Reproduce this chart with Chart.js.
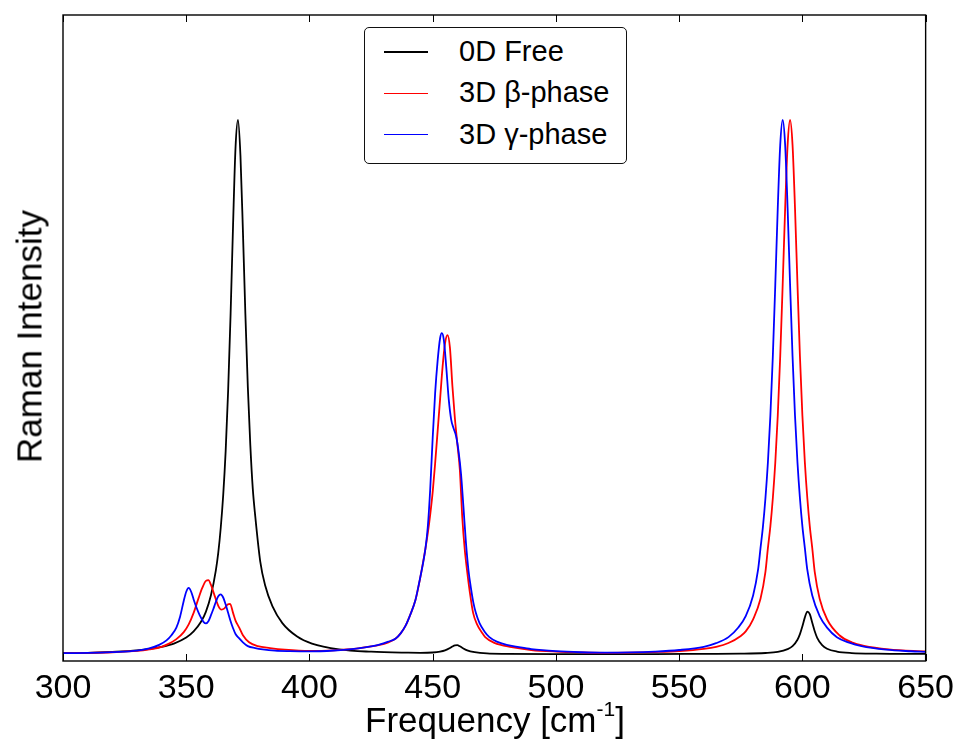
<!DOCTYPE html>
<html>
<head>
<meta charset="utf-8">
<title>Raman Intensity</title>
<script src="https://cdn.jsdelivr.net/npm/chart.js@4.4.1/dist/chart.umd.min.js"></script>
<style>
  html, body { margin: 0; padding: 0; background: #fff; }
  #wrap { position: relative; width: 961px; height: 742px; overflow: hidden;
          font-family: "Liberation Sans", Arial, sans-serif; color: #000; }
  #ramanChart { position: absolute; left: 0; top: 0; }
  .txt { position: absolute; white-space: nowrap; }
  #legendBox { position: absolute; left: 364px; top: 27px; width: 263px; height: 137px;
               box-sizing: border-box; border: 1.3px solid #111; border-radius: 5px; background: #fff; }
  .legLine { position: absolute; left: 384px; width: 44px; height: 1.6px; }
  .legText { font-size: 29px; line-height: 29px; left: 459px; }
  #xTitle { left: 195px; width: 600px; top: 702px; text-align: center; font-size: 35px; line-height: 35px; }
  #xTitle span { font-size: 0.6em; position: relative; top: -0.75em; }
  #yTitle { left: -171px; width: 400px; top: 319px; height: 35px; text-align: center;
            font-size: 35px; line-height: 35px; transform: rotate(-90deg); }
</style>
</head>
<body>
<div id="wrap">
  <canvas id="ramanChart" width="961" height="742"></canvas>
  <div id="legendBox"></div>
  <div id="legendItems"></div>
  <div class="txt" id="xTitle">Frequency [cm<span>-1</span>]</div>
  <div class="txt" id="yTitle">Raman Intensity</div>
</div>
<script>
// x axis ticks
const xTicks = [300, 350, 400, 450, 500, 550, 600, 650];

// series names (legend order)
const seriesNames = ['0D Free', '3D \u03b2-phase', '3D \u03b3-phase'];

// 0D Free (black) - frequency / intensity
const freqFree = [300, 310, 320, 330, 340, 345, 350, 353, 356, 358, 360, 362, 363, 364, 365, 366, 367, 368, 369, 370,
  371, 372, 373, 374, 375, 376, 377, 378, 380, 382, 385, 389, 395, 401, 412, 425, 440, 445, 450, 453,
  455, 457, 458, 459, 460, 461, 462, 464, 467, 472, 480, 500, 540, 560, 575, 585, 590, 594, 596, 598,
  599, 600, 601, 602, 603, 604, 605, 606, 608, 610, 614, 620, 630, 650];
const intFree = [0.003, 0.0035, 0.005, 0.0075, 0.013, 0.018, 0.0274, 0.037, 0.052, 0.068, 0.093, 0.132, 0.160, 0.199, 0.250, 0.319, 0.413, 0.533, 0.672, 0.793,
  0.836, 0.780, 0.662, 0.532, 0.418, 0.328, 0.260, 0.217, 0.147, 0.109, 0.076, 0.050, 0.029, 0.018, 0.009, 0.0053, 0.0038, 0.0036, 0.0041, 0.0054,
  0.0073, 0.011, 0.0135, 0.0153, 0.0155, 0.0138, 0.0114, 0.0074, 0.0046, 0.0026, 0.0019, 0.0015, 0.0015, 0.002, 0.0023, 0.0033, 0.005, 0.0093, 0.014, 0.024,
  0.0327, 0.045, 0.059, 0.068, 0.064, 0.0507, 0.0372, 0.027, 0.0155, 0.010, 0.0055, 0.0032, 0.0022, 0.0018];

// 3D beta-phase (red)
const freqBeta = [300, 310, 320, 330, 335, 340, 343, 346, 349, 351, 353, 355, 356.5, 358, 359, 360, 361.5, 363, 364.3, 365.5,
  366.8, 367.8, 369, 370, 371.5, 373, 375.5, 379, 384, 390, 400, 410, 419, 425, 428, 432, 435, 437, 439, 441,
  443, 444.5, 446, 447, 448, 449, 450, 451, 452, 453, 454, 455, 456, 457, 458, 459, 460, 461, 462, 463,
  464, 465, 466.4, 468, 470, 471.3, 475, 482, 490, 500, 510, 520, 530, 540, 550, 560, 565, 570, 575, 577,
  580, 583, 585, 586, 587, 588, 589, 590, 591, 592, 593, 594, 595, 596, 597, 598, 599, 600, 601, 602,
  603, 604, 605, 607, 610, 615, 620, 625, 635, 650];
const intBeta = [0.003, 0.0035, 0.0045, 0.0065, 0.009, 0.013, 0.018, 0.025, 0.036, 0.048, 0.066, 0.089, 0.105, 0.116, 0.117, 0.110, 0.093, 0.077, 0.071, 0.073,
  0.079, 0.080, 0.066, 0.054, 0.043, 0.031, 0.020, 0.014, 0.011, 0.0085, 0.0065, 0.0075, 0.010, 0.0135, 0.0155, 0.020, 0.026, 0.034, 0.046, 0.064,
  0.086, 0.112, 0.143, 0.165, 0.190, 0.220, 0.255, 0.300, 0.350, 0.400, 0.450, 0.487, 0.500, 0.480, 0.420, 0.370, 0.330, 0.290, 0.215, 0.165,
  0.130, 0.100, 0.066, 0.048, 0.035, 0.028, 0.019, 0.0125, 0.008, 0.0055, 0.0042, 0.0035, 0.0038, 0.0048, 0.0064, 0.0098, 0.013, 0.019, 0.030, 0.037,
  0.056, 0.088, 0.130, 0.167, 0.201, 0.245, 0.301, 0.374, 0.467, 0.579, 0.698, 0.797, 0.836, 0.797, 0.698, 0.579, 0.467, 0.374, 0.301, 0.245,
  0.201, 0.167, 0.130, 0.088, 0.056, 0.031, 0.020, 0.0145, 0.009, 0.0058];

// 3D gamma-phase (blue)
const freqGamma = [300, 310, 320, 330, 335, 339, 342, 344, 346, 347.5, 349, 350, 351, 352, 353, 354, 355.5, 357, 358, 359,
  360, 361, 362, 363, 364, 365, 366, 367, 368, 369, 370, 371.5, 373, 375, 378, 381, 386, 392, 400, 410,
  419, 425, 428, 432, 435, 437, 439, 441, 443, 444.5, 446, 447, 448, 449, 450, 451, 452, 453, 453.7, 454.5,
  455.5, 456.5, 457.5, 458.5, 459.5, 460.5, 461.5, 462.5, 463.5, 464.5, 465.5, 466.5, 467.5, 469, 471, 473, 476, 480, 485, 490,
  500, 510, 520, 530, 540, 550, 560, 565, 570, 574, 577, 580, 582, 583, 584, 585, 586, 587, 588, 589,
  590, 591, 592, 593, 594, 595, 596, 597, 598, 599, 600, 601, 602, 604, 607, 610, 614, 619, 624, 634, 644, 650];
const intGamma = [0.003, 0.0035, 0.0048, 0.007, 0.0105, 0.016, 0.023, 0.031, 0.043, 0.060, 0.085, 0.099, 0.105, 0.099, 0.087, 0.076, 0.062, 0.052, 0.0495, 0.053,
  0.062, 0.072, 0.083, 0.092, 0.095, 0.090, 0.079, 0.066, 0.053, 0.042, 0.033, 0.026, 0.020, 0.014, 0.011, 0.009, 0.007, 0.0062, 0.0058, 0.0072,
  0.010, 0.0135, 0.016, 0.021, 0.026, 0.034, 0.046, 0.064, 0.086, 0.113, 0.142, 0.165, 0.200, 0.260, 0.340, 0.410, 0.460, 0.495, 0.503, 0.493,
  0.450, 0.400, 0.368, 0.354, 0.342, 0.318, 0.283, 0.230, 0.175, 0.133, 0.105, 0.082, 0.066, 0.050, 0.037, 0.028, 0.021, 0.016, 0.0125, 0.0095,
  0.0062, 0.0045, 0.0038, 0.0042, 0.0055, 0.008, 0.013, 0.0186, 0.0281, 0.0432, 0.0608, 0.0932, 0.133, 0.167, 0.201, 0.245, 0.301, 0.374, 0.467, 0.579,
  0.698, 0.797, 0.836, 0.797, 0.698, 0.579, 0.467, 0.374, 0.301, 0.245, 0.201, 0.167, 0.133, 0.093, 0.061, 0.043, 0.028, 0.0195, 0.014, 0.0085, 0.006, 0.005];

const toPoints = (xs, ys) => xs.map((x, i) => ({ x, y: ys[i] }));

const datasets = [
  { label: seriesNames[0], data: toPoints(freqFree, intFree), borderColor: '#000000', order: 2 },
  { label: seriesNames[1], data: toPoints(freqBeta, intBeta), borderColor: '#ff0000', order: 1 },
  { label: seriesNames[2], data: toPoints(freqGamma, intGamma), borderColor: '#0000ff', order: 0 }
].map(d => Object.assign(d, { borderWidth: 1.8, pointRadius: 0, fill: false, cubicInterpolationMode: 'monotone' }));

// frame + inward x ticks (top and bottom), like the matplotlib original
const frameTicks = {
  id: 'frameTicks',
  afterDatasetsDraw(chart) {
    const { ctx, chartArea: a, scales: { x } } = chart;
    ctx.save();
    ctx.strokeStyle = '#000';
    ctx.lineWidth = 1;
    ctx.beginPath();
    xTicks.forEach(v => {
      const px = Math.round(x.getPixelForValue(v)) + 0.5;
      ctx.moveTo(px, a.bottom); ctx.lineTo(px, a.bottom - 7);
      ctx.moveTo(px, a.top); ctx.lineTo(px, a.top + 7);
    });
    ctx.stroke();
    ctx.lineWidth = 1.4;
    ctx.strokeRect(a.left, a.top, a.right - a.left, a.bottom - a.top);
    ctx.restore();
  }
};

new Chart(document.getElementById('ramanChart'), {
  type: 'line',
  data: { datasets },
  options: {
    responsive: false,
    animation: false,
    devicePixelRatio: 1,
    events: [],
    layout: { padding: { left: 63, right: 34, top: 15, bottom: 0 } },
    plugins: { legend: { display: false }, tooltip: { enabled: false } },
    scales: {
      x: {
        type: 'linear',
        min: 300,
        max: 650,
        afterBuildTicks: s => { s.ticks = xTicks.map(v => ({ value: v })); },
        afterFit: s => { s.height = 81; },
        grid: { display: false, drawTicks: false },
        border: { display: false },
        ticks: {
          color: '#000',
          padding: 7,
          maxRotation: 0,
          autoSkip: false,
          font: { family: '"Liberation Sans", Arial, sans-serif', size: 34 }
        }
      },
      y: { display: false, min: -0.0092, max: 1 }
    }
  },
  plugins: [frameTicks]
});

// legend inside the plot
const rows = [52, 93.3, 134.6];
const colors = ['#000000', '#ff0000', '#0000ff'];
const legendItems = document.getElementById('legendItems');
seriesNames.forEach((name, i) => {
  const line = document.createElement('div');
  line.className = 'legLine';
  line.style.top = (rows[i] - 0.8) + 'px';
  line.style.background = colors[i];
  legendItems.appendChild(line);

  const txt = document.createElement('div');
  txt.className = 'txt legText';
  txt.style.top = (rows[i] + 9.5 - 24.5) + 'px';
  txt.textContent = name;
  legendItems.appendChild(txt);
});
</script>
</body>
</html>
